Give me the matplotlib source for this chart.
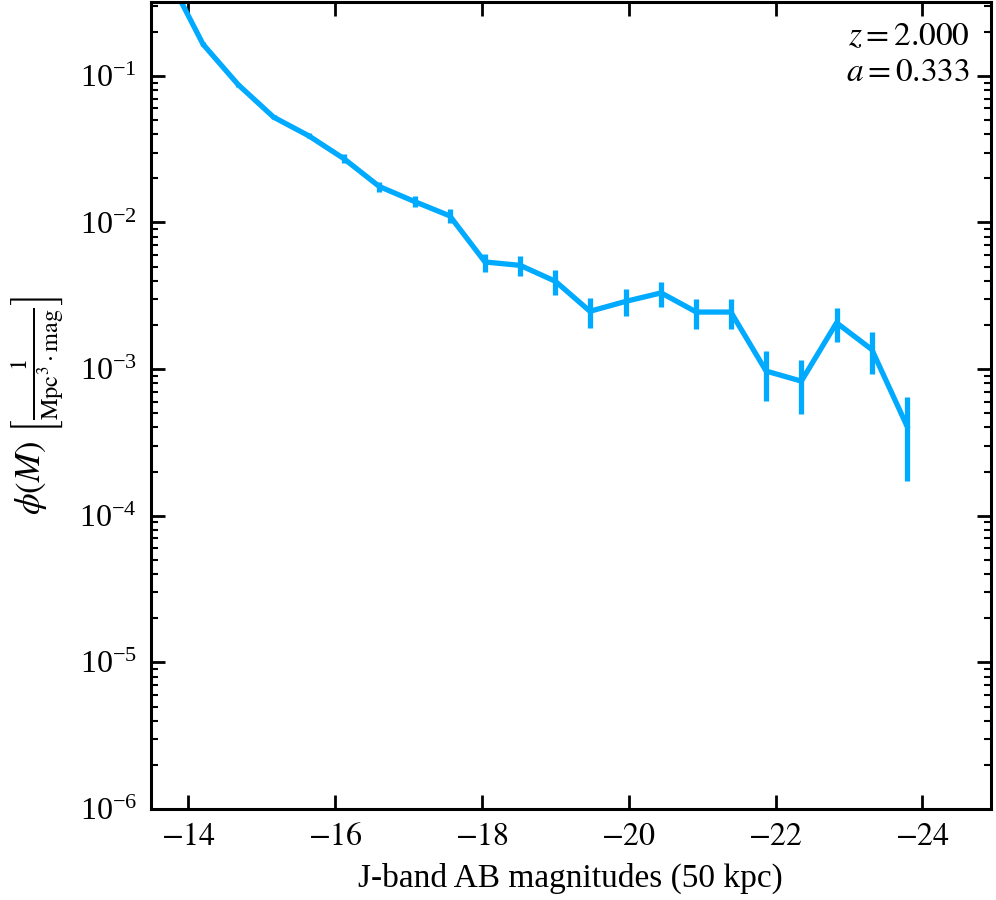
import matplotlib
matplotlib.use("Agg")
import matplotlib.pyplot as plt
from matplotlib.ticker import LogLocator, NullFormatter, NullLocator

plt.rcParams['font.family'] = 'serif'
plt.rcParams['font.serif'] = ['Liberation Serif', 'DejaVu Serif']
plt.rcParams['mathtext.fontset'] = 'stix'

magnitudes = [-13.72, -14.20, -14.68, -15.16, -15.64, -16.12, -16.60, -17.08,
              -17.56, -18.04, -18.52, -19.00, -19.47, -19.96, -20.44, -20.92,
              -21.39, -21.87, -22.35, -22.83, -23.31, -23.79]
phi = [0.48, 0.164, 0.0869, 0.0523, 0.039, 0.0272, 0.0176, 0.0139,
       0.0111, 0.00538, 0.0051, 0.00397, 0.00248, 0.0029, 0.00331, 0.00245,
       0.00245, 0.00097, 0.000828, 0.00207, 0.00136, 0.000408]
phi_err = [0.01, 0.005, 0.003, 0.0015, 0.0015, 0.0019, 0.0014, 0.0012,
           0.0012, 0.00075, 0.0008, 0.00075, 0.00056, 0.0006, 0.00064, 0.00056,
           0.00056, 0.00036, 0.00033, 0.00053, 0.00043, 0.000235]

color = '#00aaff'

fig = plt.figure(figsize=(9.96, 9.0), dpi=100)
ax = fig.add_axes([0.1516, 0.1011, 0.9947 - 0.1516, 0.998 - 0.1011])

ax.errorbar(magnitudes, phi, yerr=phi_err, color=color, lw=3.8, elinewidth=3.8,
            capsize=0)

ax.set_yscale('log')
ax.set_xlim(-13.49, -24.93)
ax.set_ylim(1e-6, 0.32)

ax.yaxis.set_major_locator(LogLocator(base=10, numticks=20))
ax.yaxis.set_minor_locator(LogLocator(base=10, subs=range(2, 10), numticks=50))
ax.yaxis.set_minor_formatter(NullFormatter())
ax.xaxis.set_minor_locator(NullLocator())
ax.set_xticks([-14, -16, -18, -20, -22, -24])
ax.set_xticklabels(['$-14$', '$-16$', '$-18$', '$-20$', '$-22$', '$-24$'])

for s in ax.spines.values():
    s.set_linewidth(2.2)
ax.tick_params(which='both', direction='in', top=True, right=True, labelsize=23)
ax.tick_params(which='major', length=10, width=2.0, pad=10)
ax.tick_params(which='minor', length=5, width=1.5)

ax.set_xlabel('J-band AB magnitudes (50 kpc)', fontsize=24, labelpad=8)
ax.set_ylabel(r'$\phi(M)\ \left[\frac{1}{\mathrm{Mpc}^3\cdot\mathrm{mag}}\right]$',
              fontsize=25, labelpad=10)

ax.text(0.975, 0.975, '$z = 2.000$\n$a = 0.333$', transform=ax.transAxes,
        ha='right', va='top', fontsize=24, linespacing=1.2)

fig.savefig('out.png', dpi=100)
